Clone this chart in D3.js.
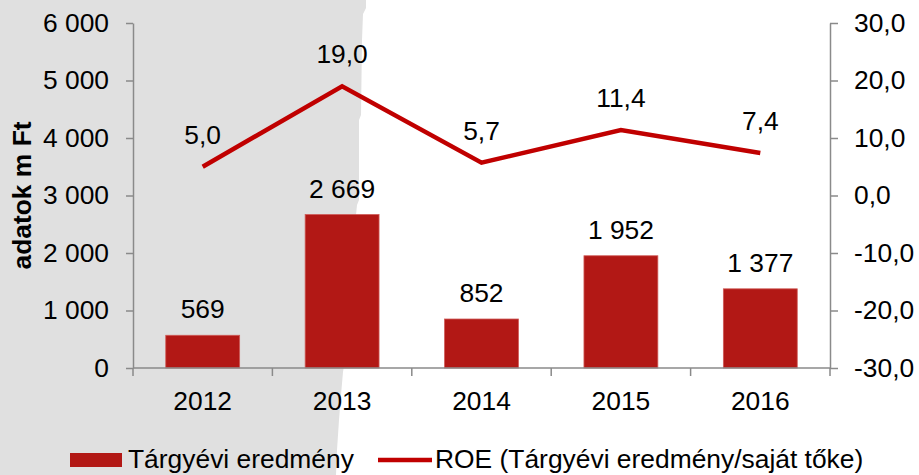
<!DOCTYPE html>
<html>
<head>
<meta charset="utf-8">
<script src="https://cdn.jsdelivr.net/npm/d3@7"></script>
<style>
html,body{margin:0;padding:0;background:#fff;}
svg{display:block;font-family:"Liberation Sans",Arial,sans-serif;}
</style>
</head>
<body>
<svg id="chart" width="919" height="475"></svg>
<script>
const categories = ["2012","2013","2014","2015","2016"];
const profit = [569, 2669, 852, 1952, 1377];
const roe = [5.0, 19.0, 5.7, 11.4, 7.4];
const leftTicks = [0,1000,2000,3000,4000,5000,6000];
const rightTicks = [-30,-20,-10,0,10,20,30];
const yTitle = "adatok m Ft";
const legendBar = "Tárgyévi eredmény";
const legendLine = "ROE (Tárgyévi eredmény/saját tőke)";

(function(){
const loc = d3.formatLocale({decimal:",", thousands:"\u00a0", grouping:[3], currency:["",""], minus:"-"});
const fmtInt = loc.format(",d");
const fmt1 = loc.format(",.1f");

const svg = d3.select("#chart");
const pL = 133, pR = 830, pT = 23, pB = 368;

// torn gray background
svg.append("path")
  .attr("d", d3.line()([[0,0],[366,0],[366,8],[363,14],[362,40],[361,115],[359,120],[359,200],[357,205],[356,215],[345,360],[343,372],[341,395],[339,420],[337,450],[336,475],[0,475]]) + "Z")
  .attr("fill", "#e0e0e0");

const x = d3.scaleBand().domain(categories).range([pL, pR]).paddingInner(0.47).paddingOuter(0.235);
const yL = d3.scaleLinear().domain([0, 6000]).range([pB, pT]);
const yR = d3.scaleLinear().domain([-30, 30]).range([pB, pT]);

const axisColor = "#8a8a8a";
const fontSize = 26.4;

const gL = svg.append("g").attr("transform", `translate(${pL},0)`)
  .call(d3.axisLeft(yL).tickValues(leftTicks).tickSize(7).tickSizeOuter(0).tickPadding(17).tickFormat(fmtInt));
const gR = svg.append("g").attr("transform", `translate(${pR},0)`)
  .call(d3.axisRight(yR).tickValues(rightTicks).tickSize(8).tickSizeOuter(0).tickPadding(16).tickFormat(fmt1));
[gL, gR].forEach(g => {
  g.select(".domain").attr("stroke", axisColor).attr("stroke-width", 1.5);
  g.selectAll(".tick line").attr("stroke", axisColor).attr("stroke-width", 1.5);
  g.selectAll(".tick text").attr("fill", "#000").style("font-size", fontSize + "px").style("font-family", '"Liberation Sans",Arial,sans-serif');
});

// bars
svg.append("g").selectAll("rect").data(categories).join("rect")
  .attr("x", d => x(d))
  .attr("width", x.bandwidth())
  .attr("y", (d,i) => yL(profit[i]))
  .attr("height", (d,i) => yL(0) - yL(profit[i]))
  .attr("fill", "#b21815")
  .attr("stroke", "#cf5a57").attr("stroke-width", 0.8);

// x axis
const gX = svg.append("g");
gX.append("line").attr("x1", pL).attr("x2", pR).attr("y1", pB).attr("y2", pB)
  .attr("stroke", axisColor).attr("stroke-width", 1.5);
const step = x.step();
const bounds = categories.map(d => x(d) - step * x.paddingInner() / 2).concat([x(categories[categories.length-1]) + x.bandwidth() + step * x.paddingInner() / 2]);
gX.selectAll("line.t").data(bounds).join("line").attr("class","t")
  .attr("x1", d => d).attr("x2", d => d).attr("y1", pB).attr("y2", pB + 8)
  .attr("stroke", axisColor).attr("stroke-width", 1.5);
gX.selectAll("text").data(categories).join("text")
  .attr("x", d => x(d) + x.bandwidth()/2).attr("y", 410)
  .attr("text-anchor", "middle").style("font-size", fontSize + "px").text(d => d);

// bar labels
svg.append("g").selectAll("text").data(categories).join("text")
  .attr("x", d => x(d) + x.bandwidth()/2)
  .attr("y", (d,i) => yL(profit[i]) - 17)
  .attr("text-anchor", "middle").style("font-size", fontSize + "px")
  .text((d,i) => fmtInt(profit[i]));

// line
const cx = d => x(d) + x.bandwidth()/2;
svg.append("path")
  .attr("d", d3.line().x((v,i) => cx(categories[i])).y(v => yR(v))(roe))
  .attr("fill", "none").attr("stroke", "#c00000").attr("stroke-width", 4.5).attr("stroke-linejoin", "miter");

svg.append("g").selectAll("text").data(roe).join("text")
  .attr("x", (v,i) => cx(categories[i]))
  .attr("y", v => yR(v) - 23)
  .attr("text-anchor", "middle").style("font-size", fontSize + "px")
  .text(v => fmt1(v));

// y title
svg.append("text")
  .attr("transform", `translate(31,${(pT+pB)/2}) rotate(-90)`)
  .attr("text-anchor", "middle").style("font-size", "26.4px").style("font-weight", "bold")
  .text(yTitle);

// legend
const lg = svg.append("g");
lg.append("rect").attr("x", 70).attr("y", 453).attr("width", 52).attr("height", 14).attr("fill", "#b21815");
lg.append("text").attr("x", 128).attr("y", 468).style("font-size", fontSize + "px").text(legendBar);
lg.append("line").attr("x1", 378).attr("x2", 432).attr("y1", 460).attr("y2", 460).attr("stroke", "#c00000").attr("stroke-width", 4.5);
lg.append("text").attr("x", 435).attr("y", 468).style("font-size", fontSize + "px").text(legendLine);
})();
</script>
</body>
</html>
